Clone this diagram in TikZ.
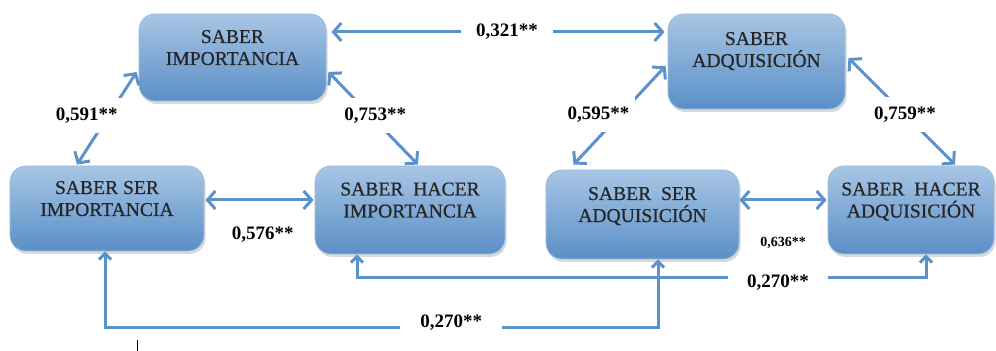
\documentclass[tikz,border=0pt]{standalone}
\usepackage{fontspec}
\setmainfont{Liberation Serif}
\newfontfamily\boxfont[FakeBold=0.6]{Liberation Serif}
\usetikzlibrary{arrows.meta,shadows,positioning,calc}
\definecolor{boxtop}{HTML}{A8C6E5}
\definecolor{boxbot}{HTML}{5A8FC7}
\definecolor{linkblue}{HTML}{5B92CB}

\begin{document}
\begin{tikzpicture}[x=0.5pt,y=-0.5pt,
  >={Straight Barb[length=4pt,width=9pt]},
  box/.style={draw=boxbot!60!white, line width=0.4pt, rounded corners=8pt,
    top color=boxtop, bottom color=boxbot,
    drop shadow={opacity=0.3, shadow xshift=0.8pt, shadow yshift=-1.5pt},
    align=center, font=\boxfont\fontsize{9.8}{11}\selectfont, text=black!85, text depth=10pt, inner sep=0pt},
  link/.style={draw=linkblue, line width=1.5pt, <->},
  coef/.style={fill=white, font=\bfseries\fontsize{9.5}{11}\selectfont, inner xsep=3pt, inner ysep=5pt}
  ]
  \useasboundingbox (0,0) rectangle (996,351);

  % Nodes
  \node[box, minimum width=93.5pt, minimum height=43.5pt] (si) at (232.5,57.5) {SABER\\IMPORTANCIA};
  \node[box, minimum width=88.5pt, minimum height=47.5pt, text depth=12pt] (sa) at (756.5,61.5) {SABER\\ADQUISICIÓN};
  \node[box, minimum width=97pt, minimum height=42.5pt] (ssi) at (107,208.5) {SABER SER\\IMPORTANCIA};
  \node[box, minimum width=95pt, minimum height=44pt] (shi) at (410,210) {SABER\enspace HACER\\IMPORTANCIA};
  \node[box, minimum width=96.5pt, minimum height=44.5pt] (ssa) at (642.5,214.5) {SABER\enspace SER\\ADQUISICIÓN};
  \node[box, minimum width=83pt, minimum height=44pt] (sha) at (911,210) {SABER\enspace HACER\\ADQUISICIÓN};

  % Correlations
  \draw[link] ([shift={(5,-25.5)}]si.east) -- ([shift={(-3,-29.5)}]sa.west)
    node[coef, pos=0.527, inner xsep=7.5pt, inner ysep=2pt] {0,321**};
  \draw[link] ([shift={(-2,14.5)}]si.west) -- ([shift={(-30,-1)}]ssi.north)
    node[coef, pos=0.468, xshift=-11pt] {0,591**};
  \draw[link] ([shift={(2,14.5)}]si.east) -- ([shift={(8,-1)}]shi.north)
    node[coef, pos=0.468, xshift=2.5pt] {0,753**};
  \draw[link] ([shift={(-2,4.5)}]sa.west) -- ([shift={(-69,-5)}]ssa.north)
    node[coef, pos=0.49, xshift=-11pt] {0,595**};
  \draw[link] ([shift={(3,-3.5)}]sa.east) -- ([shift={(44,-1)}]sha.north)
    node[coef, pos=0.53, xshift=0pt] {0,759**};
  \draw[link] ([shift={(1,-8.5)}]ssi.east) -- ([shift={(-1,-10)}]shi.west)
    node[font=\bfseries\fontsize{9.5}{11}\selectfont, pos=0.53, yshift=-17.5pt] {0,576**};
  \draw[link] ([shift={(0,-14.5)}]ssa.east) -- ([shift={(-1,-10)}]sha.west)
    node[font=\bfseries\fontsize{7}{8}\selectfont, pos=0.5, yshift=-21.5pt] {0,636**};
  \draw[link, >={Straight Barb[length=3pt,width=6pt]}] ([shift={(-53,0)}]shi.south) -- ++(0,23) -| ([shift={(15,0)}]sha.south)
    node[coef, pos=0.37, yshift=-2.5pt, inner xsep=9.5pt, inner ysep=2pt] {0,270**};
  \draw[link, >={Straight Barb[length=3pt,width=6pt]}] ([shift={(-2,0)}]ssi.south) -- ++(0,76) -| ([shift={(15.5,0)}]ssa.south)
    node[coef, pos=0.313, yshift=2.5pt, inner xsep=10pt, inner ysep=2pt] {0,270**};

  \draw[line width=0.5pt] (137,340) -- (137,351);
\end{tikzpicture}
\end{document}
